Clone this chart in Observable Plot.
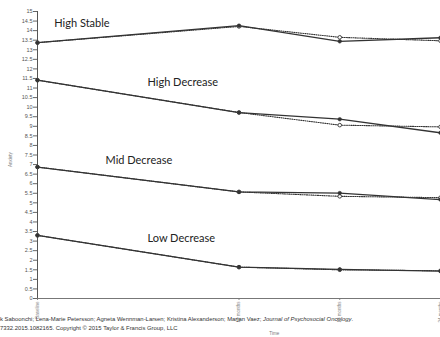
<!DOCTYPE html>
<html>
<head>
<meta charset="utf-8">
<script src="https://cdn.jsdelivr.net/npm/d3@7"></script>
<script src="https://cdn.jsdelivr.net/npm/@observablehq/plot@0.6"></script>
<style>
  html, body { margin: 0; padding: 0; background: #fff; overflow: hidden; }
  #wrap { position: relative; width: 440px; height: 337px; }
  .cap { position: absolute; left: 0; font-family: "Liberation Sans", Arial, sans-serif; font-size: 5.9px; color: #333; white-space: nowrap; }
</style>
</head>
<body>
<div id="wrap"></div>
<script>
// Time points (months) and their tick labels
const months = [0, 12, 18, 24];
const timeLabels = ["Baseline", "12 months", "18 months", "24 months"];
const classes = ["High Stable", "High Decrease", "Mid Decrease", "Low Decrease"];

// Estimated (solid) anxiety means per class
const estHighStable   = [13.37, 14.26, 13.44, 13.63];
const estHighDecrease = [11.41, 9.72, 9.37, 8.66];
const estMidDecrease  = [6.87, 5.57, 5.51, 5.17];
const estLowDecrease  = [3.30, 1.64, 1.52, 1.43];

// Observed (dotted) anxiety means per class
const obsHighStable   = [13.37, 14.22, 13.65, 13.47];
const obsHighDecrease = [11.41, 9.72, 9.06, 8.97];
const obsMidDecrease  = [6.87, 5.57, 5.34, 5.27];
const obsLowDecrease  = [3.30, 1.64, 1.50, 1.45];

// Class label anchor (month, anxiety)
const labelMonth = [1.0, 6.55, 4.05, 6.55];
const labelValue = [14.4, 11.3, 7.22, 3.14];

const yTicks = d3.range(0, 15.01, 0.5);

const est = [estHighStable, estHighDecrease, estMidDecrease, estLowDecrease];
const obs = [obsHighStable, obsHighDecrease, obsMidDecrease, obsLowDecrease];
const toRows = (arrs) => arrs.flatMap((vals, i) => vals.map((v, j) => ({cls: classes[i], t: months[j], v})));
const estRows = toRows(est);
const obsRows = toRows(obs);
const labels = classes.map((c, i) => ({c, t: labelMonth[i], v: labelValue[i]}));

const ink = "#333";

const chart = Plot.plot({
  width: 440,
  height: 337,
  marginLeft: 37,
  marginRight: 0,
  marginTop: 11,
  marginBottom: 39,
  style: {background: "transparent", fontFamily: "'Liberation Sans', Arial, sans-serif"},
  x: {domain: [0, 24]},
  y: {domain: [0, 15]},
  marks: [
    Plot.axisY({ticks: yTicks, tickFormat: d => String(d), tickSize: 4, fontSize: 5.5, tickPadding: 1, label: null, stroke: "#666", color: "#555"}),
    Plot.axisX({ticks: months, tickFormat: (d) => timeLabels[months.indexOf(d)], tickRotate: -90, tickSize: 2, fontSize: 4.5, tickPadding: 1, label: null, stroke: "#888", color: "#888"}),
    Plot.ruleX([0], {stroke: "#555", strokeWidth: 1}),
    Plot.ruleY([0], {stroke: "#777", strokeWidth: 1}),
    Plot.line(obsRows, {x: "t", y: "v", z: "cls", stroke: ink, strokeWidth: 1.1, strokeDasharray: "1,1.2"}),
    Plot.line(estRows, {x: "t", y: "v", z: "cls", stroke: ink, strokeWidth: 1.3}),
    Plot.dot(obsRows, {x: "t", y: "v", r: 1.8, stroke: ink, fill: "#fff", strokeWidth: 0.9}),
    Plot.dot(estRows, {x: "t", y: "v", r: 1.8, fill: ink, stroke: ink, strokeWidth: 0.5}),
    Plot.text(labels, {x: "t", y: "v", text: "c", textAnchor: "start", fontSize: 11, fontFamily: "Lato, 'Open Sans', sans-serif", fill: "#222"}),
    Plot.text(["Anxiety"], {frameAnchor: "left", dx: -27, rotate: -90, fontSize: 4.5, fill: "#777", dy: 12}),
    Plot.text(["Time"], {x: [14.1], y: [0], dy: 35, fontSize: 4.5, fill: "#777"})
  ]
});
const wrap = document.getElementById("wrap");
wrap.appendChild(chart);
const cap1 = document.createElement("div");
cap1.className = "cap";
cap1.style.top = "316px";
cap1.innerHTML = "k Saboonchi; Lena-Marie Petersson; Agneta Wennman-Larsen; Kristina Alexanderson; Marjan Vaez; <i>Journal of Psychosocial Oncology</i>.";
const cap2 = document.createElement("div");
cap2.className = "cap";
cap2.style.top = "325px";
cap2.textContent = "7332.2015.1082165.  Copyright © 2015 Taylor & Francis Group, LLC";
wrap.appendChild(cap1);
wrap.appendChild(cap2);
</script>
</body>
</html>
